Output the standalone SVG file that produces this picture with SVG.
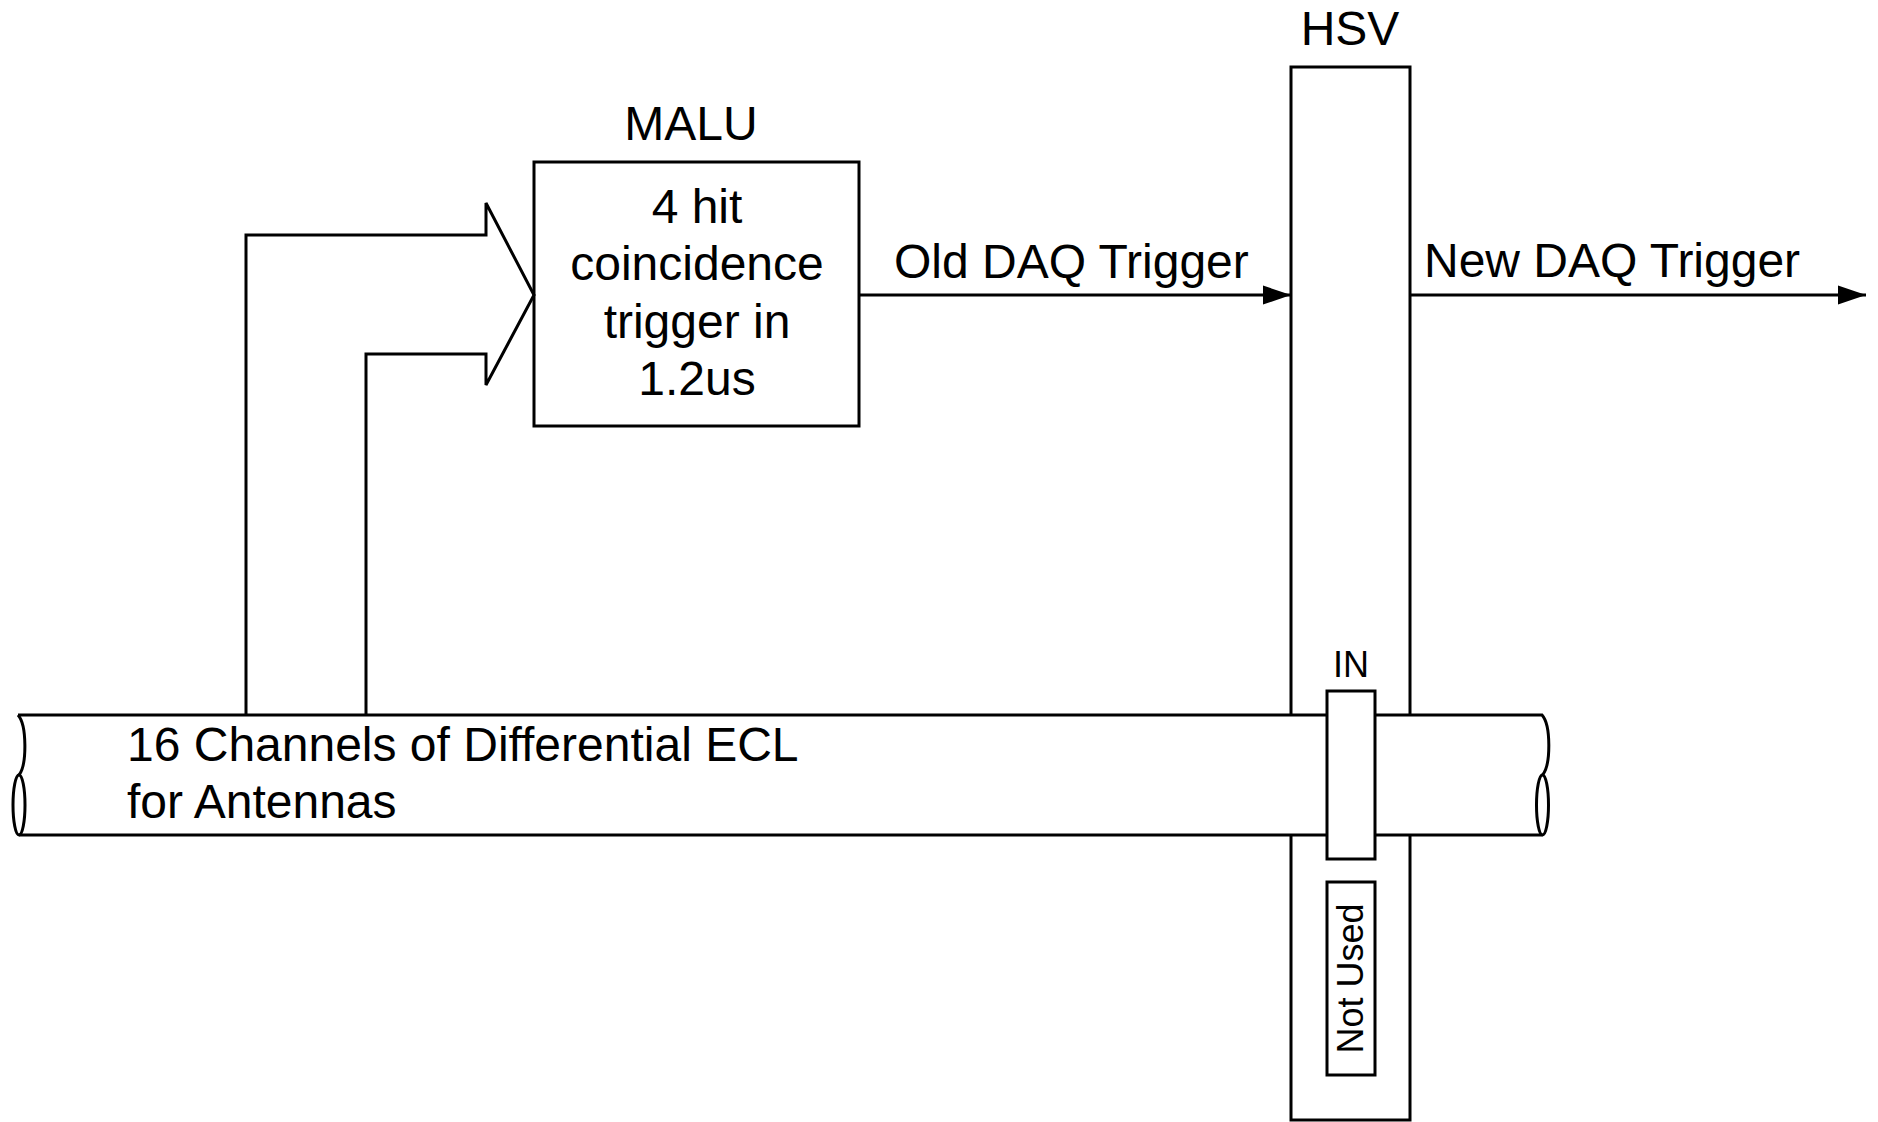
<svg xmlns="http://www.w3.org/2000/svg" width="1878" height="1122" viewBox="0 0 1878 1122">
<style>
.s{fill:none;stroke:#000;stroke-width:3;stroke-linejoin:miter}
.w{fill:#fff;stroke:#000;stroke-width:3}
.t{font-family:"Liberation Sans",Arial,sans-serif;font-size:48px;fill:#000}
.m{text-anchor:middle}
.sm{font-family:"Liberation Sans",Arial,sans-serif;font-size:36px;fill:#000;text-anchor:middle}
</style>
<defs>
<marker id="ah" markerUnits="userSpaceOnUse" markerWidth="30" markerHeight="20" refX="28" refY="10" orient="auto">
<path d="M0,0.5 L28,10 L0,19.5 Z" fill="#000"/>
</marker>
</defs>
<rect width="1878" height="1122" fill="#fff"/>
<g id="hsv">
<rect class="w" x="1291" y="67" width="119" height="1053"/>
<text class="t m" x="1350" y="45">HSV</text>
</g>
<g id="cable">
<path d="M18,715 L1542,715 C1551,725 1551,765 1542.5,775 L1542.5,835 L19,835 L19,775 C27,765 27,725 18,715 Z" fill="#fff" stroke="none"/>
<path class="s" d="M18,715 L1542,715 C1551,725 1551,765 1542.5,775"/>
<path class="s" d="M18,715 C27,725 27,765 19,775"/>
<path class="s" d="M19,835 L1542.5,835"/>
<ellipse class="s" cx="19" cy="805" rx="6" ry="30"/>
<ellipse class="s" cx="1542.5" cy="805" rx="6" ry="30"/>
<text class="t" x="127" y="761">16 Channels of Differential ECL</text>
<text class="t" x="127" y="818">for Antennas</text>
</g>
<g id="in">
<rect class="w" x="1327" y="691" width="48" height="168"/>
<text class="sm" x="1351" y="677">IN</text>
</g>
<g id="notused">
<rect class="w" x="1327" y="882" width="48" height="193"/>
<text class="sm" transform="translate(1363,978.5) rotate(-90)" x="0" y="0">Not Used</text>
</g>
<g id="malu">
<rect class="w" x="534" y="162" width="325" height="264"/>
<text class="t m" x="691" y="140">MALU</text>
<text class="t m" x="697" y="223">4 hit</text>
<text class="t m" x="697" y="280">coincidence</text>
<text class="t m" x="697" y="338">trigger in</text>
<text class="t m" x="697" y="395">1.2us</text>
</g>
<g id="connectors">
<path class="s" d="M246,715 L246,235 L486,235 L486,203 L534,295 L486,385 L486,354 L366,354 L366,715"/>
<path class="s" d="M859,295 L1291,295" marker-end="url(#ah)"/>
<path class="s" d="M1410,295 L1866,295" marker-end="url(#ah)"/>
<text class="t" x="894" y="278">Old DAQ Trigger</text>
<text class="t" x="1424" y="277">New DAQ Trigger</text>
</g>
</svg>
